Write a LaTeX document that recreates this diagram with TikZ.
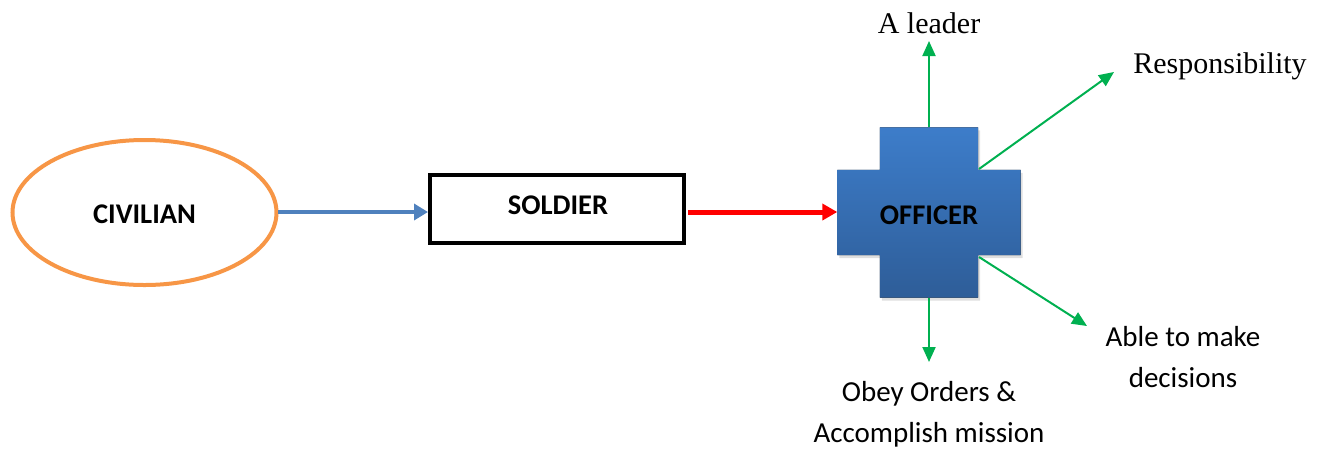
\documentclass[tikz,border=0pt]{standalone}
\usepackage{fontspec}
\setmainfont{Carlito}
\newfontfamily\serifcam{Liberation Serif}
\usetikzlibrary{arrows.meta,shadows}
\definecolor{corange}{HTML}{F79646}
\definecolor{cblue}{HTML}{4F81BD}
\definecolor{cgreen}{HTML}{00B050}
\definecolor{ctop}{HTML}{3D7DCA}
\definecolor{cbot}{HTML}{2E5D98}
\tikzset{
  lbl/.style={font=\fontsize{29}{41}\selectfont, align=center, anchor=base, inner sep=0pt},
  slbl/.style={font=\serifcam\fontsize{30}{34}\selectfont, anchor=base, inner sep=0pt},
  title/.style={font=\bfseries\fontsize{28.5}{30}\selectfont, inner sep=0pt},
  garrow/.style={cgreen, line width=2pt, -{Triangle[length=15pt,width=13pt]}},
}
\begin{document}
\begin{tikzpicture}[x=1pt,y=-1pt]
\useasboundingbox (0,0) rectangle (1329,448);
% civilian
\draw[corange, line width=4pt] (144.5,212.5) ellipse [x radius=132, y radius=72.5];
\node[title] (civ) at (144.5,214) {CIVILIAN};
\coordinate (civE) at (278,212);
% soldier
\node[draw=black, line width=4pt, minimum width=254pt, minimum height=68pt, inner sep=0pt] (sol) at (557,209) {};
\node[title] (soltxt) at (558,205) {SOLDIER};
% officer cross
\node[minimum width=98pt, minimum height=170pt, inner sep=0pt] (ov) at (929,212.5) {};
\node[minimum width=183pt, minimum height=85pt, inner sep=0pt] (officer) at (929,212.5) {};
\fill[top color=ctop, bottom color=cbot,
      drop shadow={opacity=0.25, shadow xshift=2pt, shadow yshift=-3pt}]
  (ov.north west) -- (ov.north east) -- (ov.north east |- officer.north) -- (officer.north east)
  -- (officer.south east) -- (ov.south east |- officer.south) -- (ov.south east) -- (ov.south west)
  -- (ov.south west |- officer.south) -- (officer.south west) -- (officer.north west)
  -- (ov.north west |- officer.north) -- cycle;
\node[title] (offtxt) at (929,215) {OFFICER};
% main arrows
\coordinate (solE) at (688,212);
\draw[cblue, line width=4pt, -{Triangle[length=14pt,width=16pt]}] (civE) -- (civE -| sol.west);
\draw[red, line width=5pt, -{Triangle[length=15pt,width=16pt]}] (solE) -- (solE -| officer.west);
% labels
\node[slbl] (leader) at (929,33) {A leader};
\node[slbl] (resp) at (1220,73) {Responsibility};
\node[lbl] (able) at (1183,387) {Able to make\\decisions};
\node[lbl] (obey) at (929,442) {Obey Orders \&\\Accomplish mission};
% green arrows
\coordinate (leadertip) at (929,41);
\coordinate (resptip) at (1114,72);
\coordinate (abletip) at (1087,326);
\coordinate (obeytip) at (929,362);
\coordinate (crossNE) at (979,169);
\coordinate (crossSE) at (979,257);
\draw[garrow] (ov.north) -- (leadertip);
\draw[garrow] (crossNE) -- (resptip);
\draw[garrow] (crossSE) -- (abletip);
\draw[garrow] (ov.south) -- (obeytip);
\end{tikzpicture}
\end{document}
